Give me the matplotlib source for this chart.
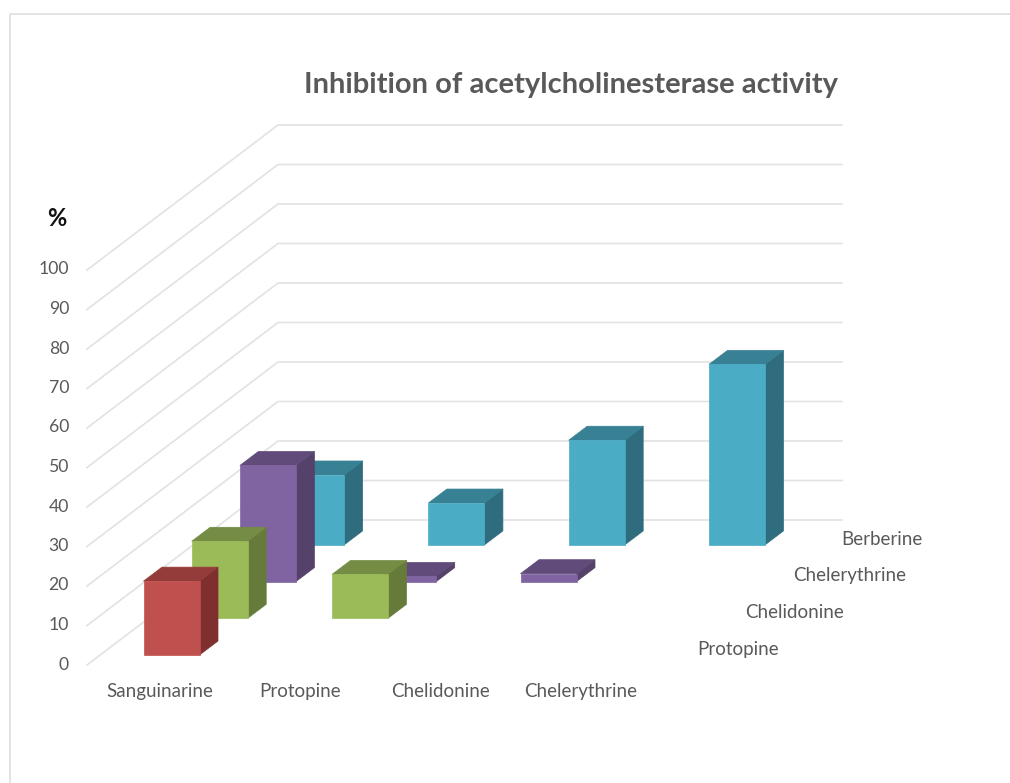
import numpy as np
import matplotlib
matplotlib.use("Agg")
import matplotlib.pyplot as plt
from matplotlib.patches import Polygon

plt.rcParams['font.family'] = ['Lato', 'DejaVu Sans']

# Chart values
categories = ['Sanguinarine', 'Protopine', 'Chelidonine', 'Chelerythrine']
series_names = ['Protopine', 'Chelidonine', 'Chelerythrine', 'Berberine']
protopine = [18.7, np.nan, np.nan, np.nan]
chelidonine = [19.5, 11.1, np.nan, np.nan]
chelerythrine = [29.4, 1.3, 2.0, np.nan]
berberine = [17.7, 10.6, 26.5, 45.7]
y_ticks = [0, 10, 20, 30, 40, 50, 60, 70, 80, 90, 100]

all_series = [protopine, chelidonine, chelerythrine, berberine]

# front, top and side shades for each series
shades = [
    ('#C0504D', '#943C39', '#7F302E'),
    ('#9BBB59', '#748C43', '#667B3A'),
    ('#8064A2', '#604B7A', '#54426B'),
    ('#4BACC6', '#388194', '#2F6C7E'),
]

# oblique projection, all in pixels
px_per_unit = 3.95
cat_step = 140.3
series_step = np.array([48.2, -36.7])
bar_width = 56.0
bar_depth = np.array([18.5, -14.0])
first_bar = np.array([143.5, 655.0])
wall_front = np.array([87.0, 665.0])
wall_back = np.array([278.0, 520.0])
wall_right = 842.0

text_grey = '#595959'
grid_grey = '#e2e2e2'


def bar_origin(c, s):
    return first_bar + np.array([c * cat_step, 0.0]) + s * series_step


def draw_bar(ax, c, s, value, colours):
    x0, y0 = bar_origin(c, s)
    h = value * px_per_unit
    w = bar_width
    dx, dy = bar_depth
    front = [(x0, y0), (x0 + w, y0), (x0 + w, y0 - h), (x0, y0 - h)]
    top = [(x0, y0 - h), (x0 + w, y0 - h), (x0 + w + dx, y0 - h + dy), (x0 + dx, y0 - h + dy)]
    side = [(x0 + w, y0), (x0 + w + dx, y0 + dy), (x0 + w + dx, y0 - h + dy), (x0 + w, y0 - h)]
    for pts, col in zip((side, top, front), (colours[2], colours[1], colours[0])):
        ax.add_patch(Polygon(pts, closed=True, facecolor=col, edgecolor=col,
                             linewidth=0.5, zorder=3))


fig = plt.figure(figsize=(10.10, 7.83), dpi=100)
ax = fig.add_axes([0, 0, 1, 1])
ax.set_xlim(0, 1010)
ax.set_ylim(783, 0)
ax.axis('off')

# chart area border, only left and top show
ax.plot([10, 10, 1010], [783, 14, 14], color='#dcdcdc', lw=1.1)

# gridlines run along the side wall and then the back wall
for v in y_ticks:
    h = v * px_per_unit
    ax.plot([wall_front[0], wall_back[0], wall_right],
            [wall_front[1] - h, wall_back[1] - h, wall_back[1] - h],
            color=grid_grey, lw=1.2, solid_joinstyle='miter', zorder=1)
    ax.text(69, wall_front[1] - h - 0.5, str(v), ha='right', va='center',
            fontsize=12.7, color=text_grey)

# back series first so the nearer bars cover it
for s in range(len(all_series) - 1, -1, -1):
    for c in range(len(categories)):
        value = all_series[s][c]
        if not np.isnan(value):
            draw_bar(ax, c, s, value, shades[s])

for c, name in enumerate(categories):
    ax.text(159.5 + c * cat_step, 691.5, name, ha='center', va='center',
            fontsize=13.5, color=text_grey)

for s, name in enumerate(series_names):
    ax.text(697 + s * 48.2, 649 - s * 36.5, name, ha='left', va='center',
            fontsize=13.5, color=text_grey)

ax.text(57, 218, '%', ha='center', va='center', fontsize=17,
        fontweight='bold', color='#111111')
ax.text(570.5, 85.5, 'Inhibition of acetylcholinesterase activity', ha='center', va='center',
        fontsize=21, fontweight='bold', color=text_grey)

fig.savefig('out.png', dpi=100, facecolor='white')
